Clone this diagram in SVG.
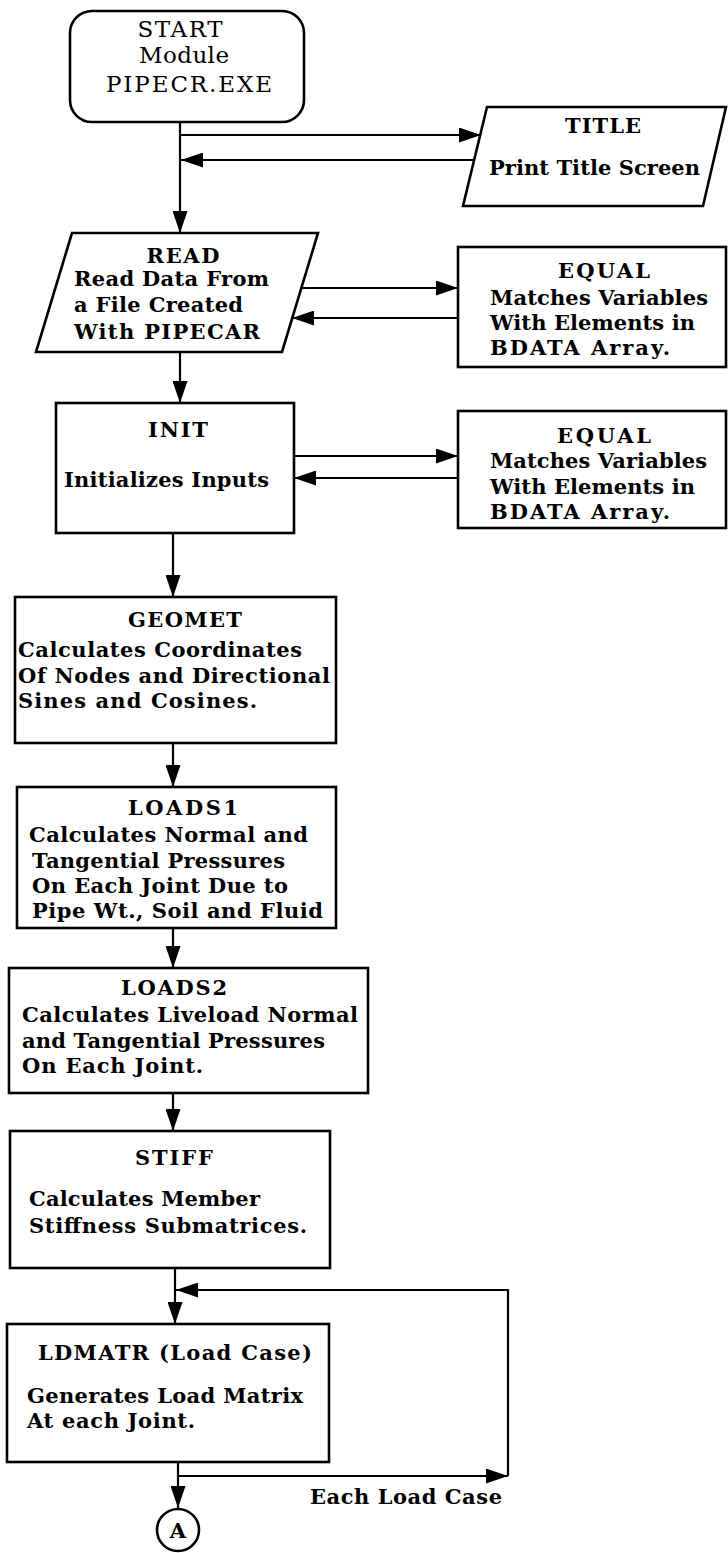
<svg xmlns="http://www.w3.org/2000/svg" width="728" height="1553" viewBox="0 0 728 1553">
<style>
.box{fill:#fff;stroke:#000;stroke-width:2.6}
.ln{fill:none;stroke:#000;stroke-width:2.2}
text{font-family:"DejaVu Serif","Liberation Serif",serif;font-size:21px;font-weight:bold;fill:#000}
.c{text-anchor:middle}
.st{font-weight:normal;font-size:23px}
</style>
<defs>
<marker id="ah" markerUnits="userSpaceOnUse" markerWidth="22" markerHeight="15" viewBox="0 0 22 15" refX="22" refY="7.5" orient="auto">
<path d="M0,0 L22,7.5 L0,15 z" fill="#000"/>
</marker>
</defs>
<rect width="728" height="1553" fill="#fff"/>
<g id="connectors">
<path class="ln" d="M180,122 V233" marker-end="url(#ah)"/>
<path class="ln" d="M180,135 H481" marker-end="url(#ah)"/>
<path class="ln" d="M475,160 H181" marker-end="url(#ah)"/>
<path class="ln" d="M180,352 V403" marker-end="url(#ah)"/>
<path class="ln" d="M301,288 H458" marker-end="url(#ah)"/>
<path class="ln" d="M458,318 H292" marker-end="url(#ah)"/>
<path class="ln" d="M294,456 H458" marker-end="url(#ah)"/>
<path class="ln" d="M458,478 H294" marker-end="url(#ah)"/>
<path class="ln" d="M173,533 V597" marker-end="url(#ah)"/>
<path class="ln" d="M173,743 V787" marker-end="url(#ah)"/>
<path class="ln" d="M173,928 V968" marker-end="url(#ah)"/>
<path class="ln" d="M173,1093 V1131" marker-end="url(#ah)"/>
<path class="ln" d="M175,1268 V1324" marker-end="url(#ah)"/>
<path class="ln" d="M508,1476 V1290 H176" marker-end="url(#ah)"/>
<path class="ln" d="M178,1476 H508" marker-end="url(#ah)"/>
<path class="ln" d="M178,1462 V1508" marker-end="url(#ah)"/>
</g>
<g id="start">
<rect class="box" x="70" y="11" width="234" height="111" rx="22"/>
<text class="c st" x="180" y="37" textLength="85">START</text>
<text class="c st" x="184" y="63" textLength="90">Module</text>
<text class="c st" x="189" y="92" textLength="166">PIPECR.EXE</text>
</g>
<g id="title">
<polygon class="box" points="487,107 726,107 703,206 463,206"/>
<text class="c" x="603" y="133" textLength="76">TITLE</text>
<text x="489" y="175" textLength="211">Print Title Screen</text>
</g>
<g id="read">
<polygon class="box" points="72,233 318,233 282,352 36,352"/>
<text class="c" x="183" y="263" textLength="73">READ</text>
<text x="74" y="286" textLength="195">Read Data From</text>
<text x="74" y="312" textLength="169">a File Created</text>
<text x="74" y="339" textLength="186">With PIPECAR</text>
</g>
<g id="equal1">
<rect class="box" x="458" y="247" width="268" height="120"/>
<text class="c" x="604" y="278" textLength="92">EQUAL</text>
<text x="490" y="305" textLength="218">Matches Variables</text>
<text x="490" y="330" textLength="205">With Elements in</text>
<text x="490" y="355" textLength="180">BDATA Array.</text>
</g>
<g id="init">
<rect class="box" x="56" y="403" width="238" height="130"/>
<text class="c" x="178" y="437" textLength="60">INIT</text>
<text x="64" y="487" textLength="205">Initializes Inputs</text>
</g>
<g id="equal2">
<rect class="box" x="458" y="411" width="268" height="117"/>
<text class="c" x="604" y="443" textLength="94">EQUAL</text>
<text x="490" y="468" textLength="217">Matches Variables</text>
<text x="490" y="494" textLength="205">With Elements in</text>
<text x="490" y="519" textLength="180">BDATA Array.</text>
</g>
<g id="geomet">
<rect class="box" x="15" y="597" width="321" height="146"/>
<text class="c" x="185" y="627" textLength="114">GEOMET</text>
<text x="18" y="657" textLength="284">Calculates Coordinates</text>
<text x="18" y="683" textLength="312">Of Nodes and Directional</text>
<text x="18" y="708" textLength="239">Sines and Cosines.</text>
</g>
<g id="loads1">
<rect class="box" x="17" y="787" width="319" height="141"/>
<text class="c" x="183" y="815" textLength="110">LOADS1</text>
<text x="29" y="842" textLength="279">Calculates Normal and</text>
<text x="32" y="868" textLength="253">Tangential Pressures</text>
<text x="32" y="893" textLength="256">On Each Joint Due to</text>
<text x="32" y="918" textLength="291">Pipe Wt., Soil and Fluid</text>
</g>
<g id="loads2">
<rect class="box" x="9" y="968" width="359" height="125"/>
<text class="c" x="174" y="995" textLength="106">LOADS2</text>
<text x="22" y="1022" textLength="336">Calculates Liveload Normal</text>
<text x="22" y="1048" textLength="303">and Tangential Pressures</text>
<text x="22" y="1073" textLength="181">On Each Joint.</text>
</g>
<g id="stiff">
<rect class="box" x="10" y="1131" width="320" height="137"/>
<text class="c" x="174" y="1165" textLength="78">STIFF</text>
<text x="29" y="1206" textLength="231">Calculates Member</text>
<text x="29" y="1233" textLength="278">Stiffness Submatrices.</text>
</g>
<g id="ldmatr">
<rect class="box" x="7" y="1324" width="322" height="138"/>
<text x="38" y="1360" textLength="274">LDMATR (Load Case)</text>
<text x="27" y="1403" textLength="276">Generates Load Matrix</text>
<text x="27" y="1428" textLength="168">At each Joint.</text>
</g>
<g id="connector-a">
<circle class="box" cx="178" cy="1530" r="21"/>
<text class="c" x="178" y="1538">A</text>
</g>
<g id="loop-label">
<text x="310" y="1504" textLength="192">Each Load Case</text>
</g>
</svg>
